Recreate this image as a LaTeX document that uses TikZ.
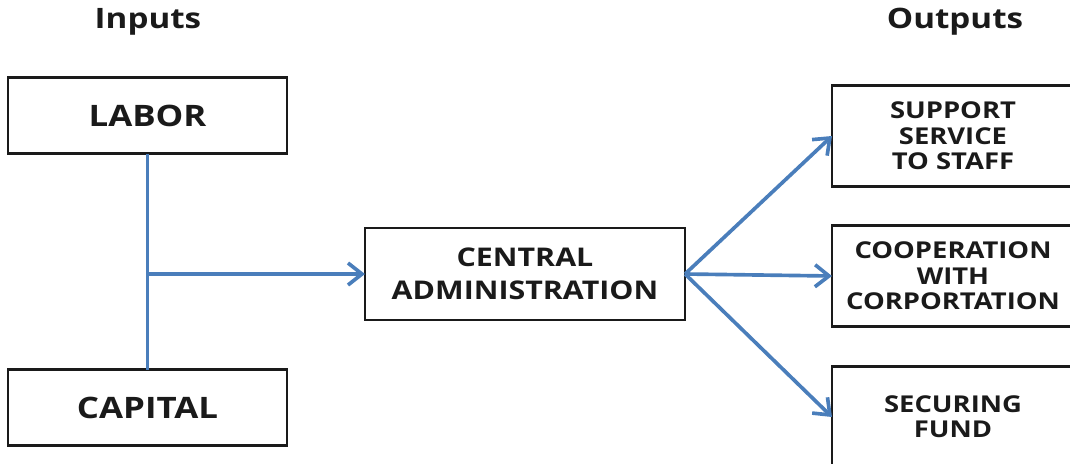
\documentclass[tikz,border=0pt]{standalone}
\usepackage{fontspec}
\setmainfont[FakeStretch=1.18]{Open Sans}
\usepackage{tikz}
\usetikzlibrary{arrows.meta, positioning}
\definecolor{flowblue}{HTML}{4A7EBB}
\definecolor{boxblack}{HTML}{1A1A1A}

\begin{document}
\begin{tikzpicture}[
        x=0.025cm, y=-0.025cm,
        every node/.style={align=center, outer sep=0pt},
        % cajas: borde negro, texto en mayusculas y negrita
        unit/.style={rectangle, draw=boxblack, line width=1.5pt,
                     fill=white, inner sep=2pt, text=boxblack},
        inbox/.style={unit, minimum width=6.975cm, minimum height=1.9cm,
                      font=\bfseries\fontsize{21}{25}\selectfont},
        centerbox/.style={unit, minimum width=8cm, minimum height=2.3cm,
                          font=\bfseries\fontsize{18.3}{23.5}\selectfont},
        outbox/.style={unit, minimum width=6.05cm, minimum height=2.525cm,
                       font=\bfseries\fontsize{16.5}{18}\selectfont},
        heading/.style={font=\bfseries\fontsize{20}{24}\selectfont, text=boxblack},
        % conectores azules con punta abierta
        flow/.style={-{Straight Barb[length=3.5mm, width=5.5mm]},
                     draw=flowblue, line width=2.6pt},
        link/.style={draw=flowblue, line width=2.6pt}
    ]
        \useasboundingbox (0,0) rectangle (1070,463);
        \clip (0,0) rectangle (1070,463);

        \node[heading] (hin)  at (148,22) {Inputs};
        \node[heading] (hout) at (955,22) {Outputs};

        \node[inbox] (labor)   at (147.5,115.5) {LABOR};
        \node[inbox] (capital) at (147.5,407.5) {CAPITAL};

        \node[centerbox] (admin) at (525,274) {CENTRAL\\ADMINISTRATION};

        \node[outbox] (support) at (953,136) {SUPPORT\\SERVICE\\TO STAFF};
        \node[outbox] (coop)    at (953,276) {COOPERATION\\WITH\\CORPORTATION};
        \node[outbox] (fund)    at (953,417) {SECURING\\FUND};

        \coordinate (join) at (labor.south |- admin.west);
        \draw[link] (labor.south) -- (capital.north);
        \draw[flow] (join) -- (admin.west);

        \draw[flow] (admin.east) -- (support.west);
        \draw[flow] (admin.east) -- (coop.west);
        \draw[flow] (admin.east) -- (fund.west);
    \end{tikzpicture}
\end{document}
